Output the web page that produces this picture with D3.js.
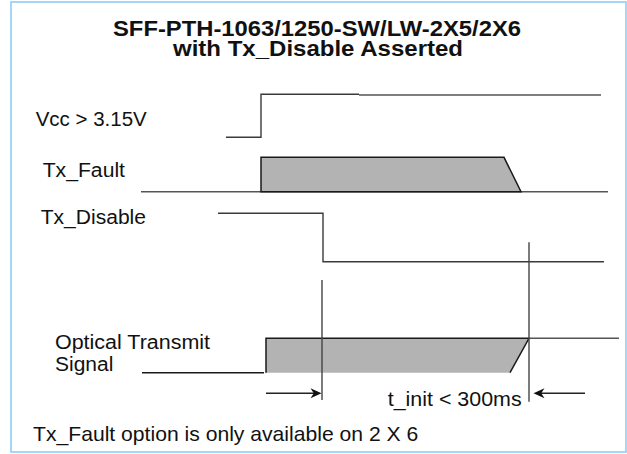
<!DOCTYPE html>
<html><head><meta charset="utf-8">
<script src="https://cdn.jsdelivr.net/npm/d3@7/dist/d3.min.js"></script>
<style>body{margin:0;background:#fff}svg{display:block}</style>
</head><body>
<script>
// ---- data (time axis in arbitrary units, level 0 = low, 1 = high) ----
const titleLines = ["SFF-PTH-1063/1250-SW/LW-2X5/2X6", "with Tx_Disable Asserted"];
const signalNames = ["Vcc > 3.15V", "Tx_Fault", "Tx_Disable", "Optical Transmit", "Signal"];
const vccWave = [[86, 0], [121, 0], [121, 1], [219, 1]];
const vccWave2 = [[219, 0.985], [461, 0.985]];
const faultBase = [[1, 0], [468, 0]];
const faultPulse = [[121, 0], [121, 1], [364, 1], [381, 0]];
const disableWave = [[78, 1], [183, 1], [183, 0], [464, 0]];
const opticalBase = [[2, 0], [124, 0]];
const opticalPulse = [[126, 0], [126, 1], [389, 1], [370, 0]];
const opticalTop = [[389, 1], [479, 1]];
const markerTimes = [182, 389];
const timingLabel = "t_init < 300ms";
const footnote = "Tx_Fault option is only available on 2 X 6";

// ---- layout ----
const W = 627, H = 454;
const x = d3.scaleLinear().domain([0, 480]).range([140, 620]);
const rows = {
  vcc: d3.scaleLinear().domain([0, 1]).range([137.3, 94.3]),
  fault: d3.scaleLinear().domain([0, 1]).range([191.7, 157.3]),
  disable: d3.scaleLinear().domain([0, 1]).range([261.7, 213.3]),
  optical: d3.scaleLinear().domain([0, 1]).range([372.7, 338.3])
};
const font = "'Liberation Sans', Arial, Helvetica, sans-serif";

const svg = d3.select("body").append("svg").attr("width", W).attr("height", H);

svg.append("rect").attr("x", 11).attr("y", 2).attr("width", 615).attr("height", 450)
  .attr("fill", "none").attr("stroke", "#88c8f8").attr("stroke-width", 1.5);

// two-line title as a single text element
const titleWidths = [408, 290];
svg.append("text")
  .attr("text-anchor", "middle")
  .attr("font-family", font).attr("font-weight", "bold").attr("font-size", 21.3)
  .attr("fill", "#111")
  .selectAll("tspan").data(titleLines).join("tspan")
  .attr("x", (d, i) => i === 0 ? 317 : 318)
  .attr("y", (d, i) => 36 + i * 20)
  .attr("textLength", (d, i) => titleWidths[i]).attr("lengthAdjust", "spacingAndGlyphs")
  .text(d => d);

const labelPos = [[35.7, 126], [42.7, 177.3], [40.7, 224], [55, 349.3], [55, 371]];
const labelWidths = [111, 82.3, 105.3, 155, 58.3];
svg.selectAll("text.lbl").data(signalNames).join("text")
  .attr("class", "lbl")
  .attr("x", (d, i) => labelPos[i][0]).attr("y", (d, i) => labelPos[i][1])
  .attr("font-family", font).attr("font-size", 20)
  .attr("textLength", (d, i) => labelWidths[i]).attr("lengthAdjust", "spacingAndGlyphs")
  .attr("fill", "#111").text(d => d);

function wave(data, row, opts) {
  const line = d3.line().x(d => x(d[0])).y(d => rows[row](d[1]));
  svg.append("path").attr("d", line(data) + (opts.close ? "Z" : ""))
    .attr("fill", opts.fill || "none")
    .attr("stroke", opts.stroke || "#444")
    .attr("stroke-width", opts.sw || 1.4)
    .attr("stroke-linejoin", "miter");
}

wave(vccWave, "vcc", {stroke: "#3a3a3a"});
wave(vccWave2, "vcc", {stroke: "#555"});
wave(faultBase, "fault", {stroke: "#555"});
wave(faultPulse, "fault", {fill: "#b3b3b3", stroke: "#1a1a1a", sw: 1.5, close: true});
wave(disableWave, "disable", {stroke: "#3a3a3a"});
wave(opticalBase, "optical", {stroke: "#1a1a1a"});
wave(opticalPulse, "optical", {fill: "#b3b3b3", stroke: "#1a1a1a", sw: 1.5, close: false});
wave(opticalTop, "optical", {stroke: "#555"});

// markers
const markerSpans = [[280, 400], [242.3, 401.7]];
svg.selectAll("line.mk").data(markerTimes).join("line")
  .attr("class", "mk")
  .attr("x1", d => x(d)).attr("x2", d => x(d))
  .attr("y1", (d, i) => markerSpans[i][0]).attr("y2", (d, i) => markerSpans[i][1])
  .attr("stroke", "#444").attr("stroke-width", 1.4);

// arrows
const ay = 393.3;
function arrow(x0, x1) {
  const dir = Math.sign(x1 - x0);
  const headL = 11, headW = 5;
  svg.append("line").attr("x1", x0).attr("x2", x1 - dir * headL * 0.6).attr("y1", ay).attr("y2", ay)
    .attr("stroke", "#222").attr("stroke-width", 1.4);
  svg.append("path")
    .attr("d", `M${x1},${ay} L${x1 - dir * headL},${ay - headW} L${x1 - dir * headL * 0.7},${ay} L${x1 - dir * headL},${ay + headW} Z`)
    .attr("fill", "#111");
}
arrow(x(126), x(markerTimes[0]) - 0.5);
arrow(585, x(markerTimes[1]) + 4.5);

svg.append("text").attr("x", 387.7).attr("y", 406)
  .attr("font-family", font).attr("font-size", 20.3)
  .attr("textLength", 134).attr("lengthAdjust", "spacingAndGlyphs")
  .attr("fill", "#111").text(timingLabel);

svg.append("text").attr("x", 33).attr("y", 440.5)
  .attr("font-family", font).attr("font-size", 19.8)
  .attr("textLength", 385.3).attr("lengthAdjust", "spacingAndGlyphs")
  .attr("fill", "#111").text(footnote);
</script>
</body></html>
